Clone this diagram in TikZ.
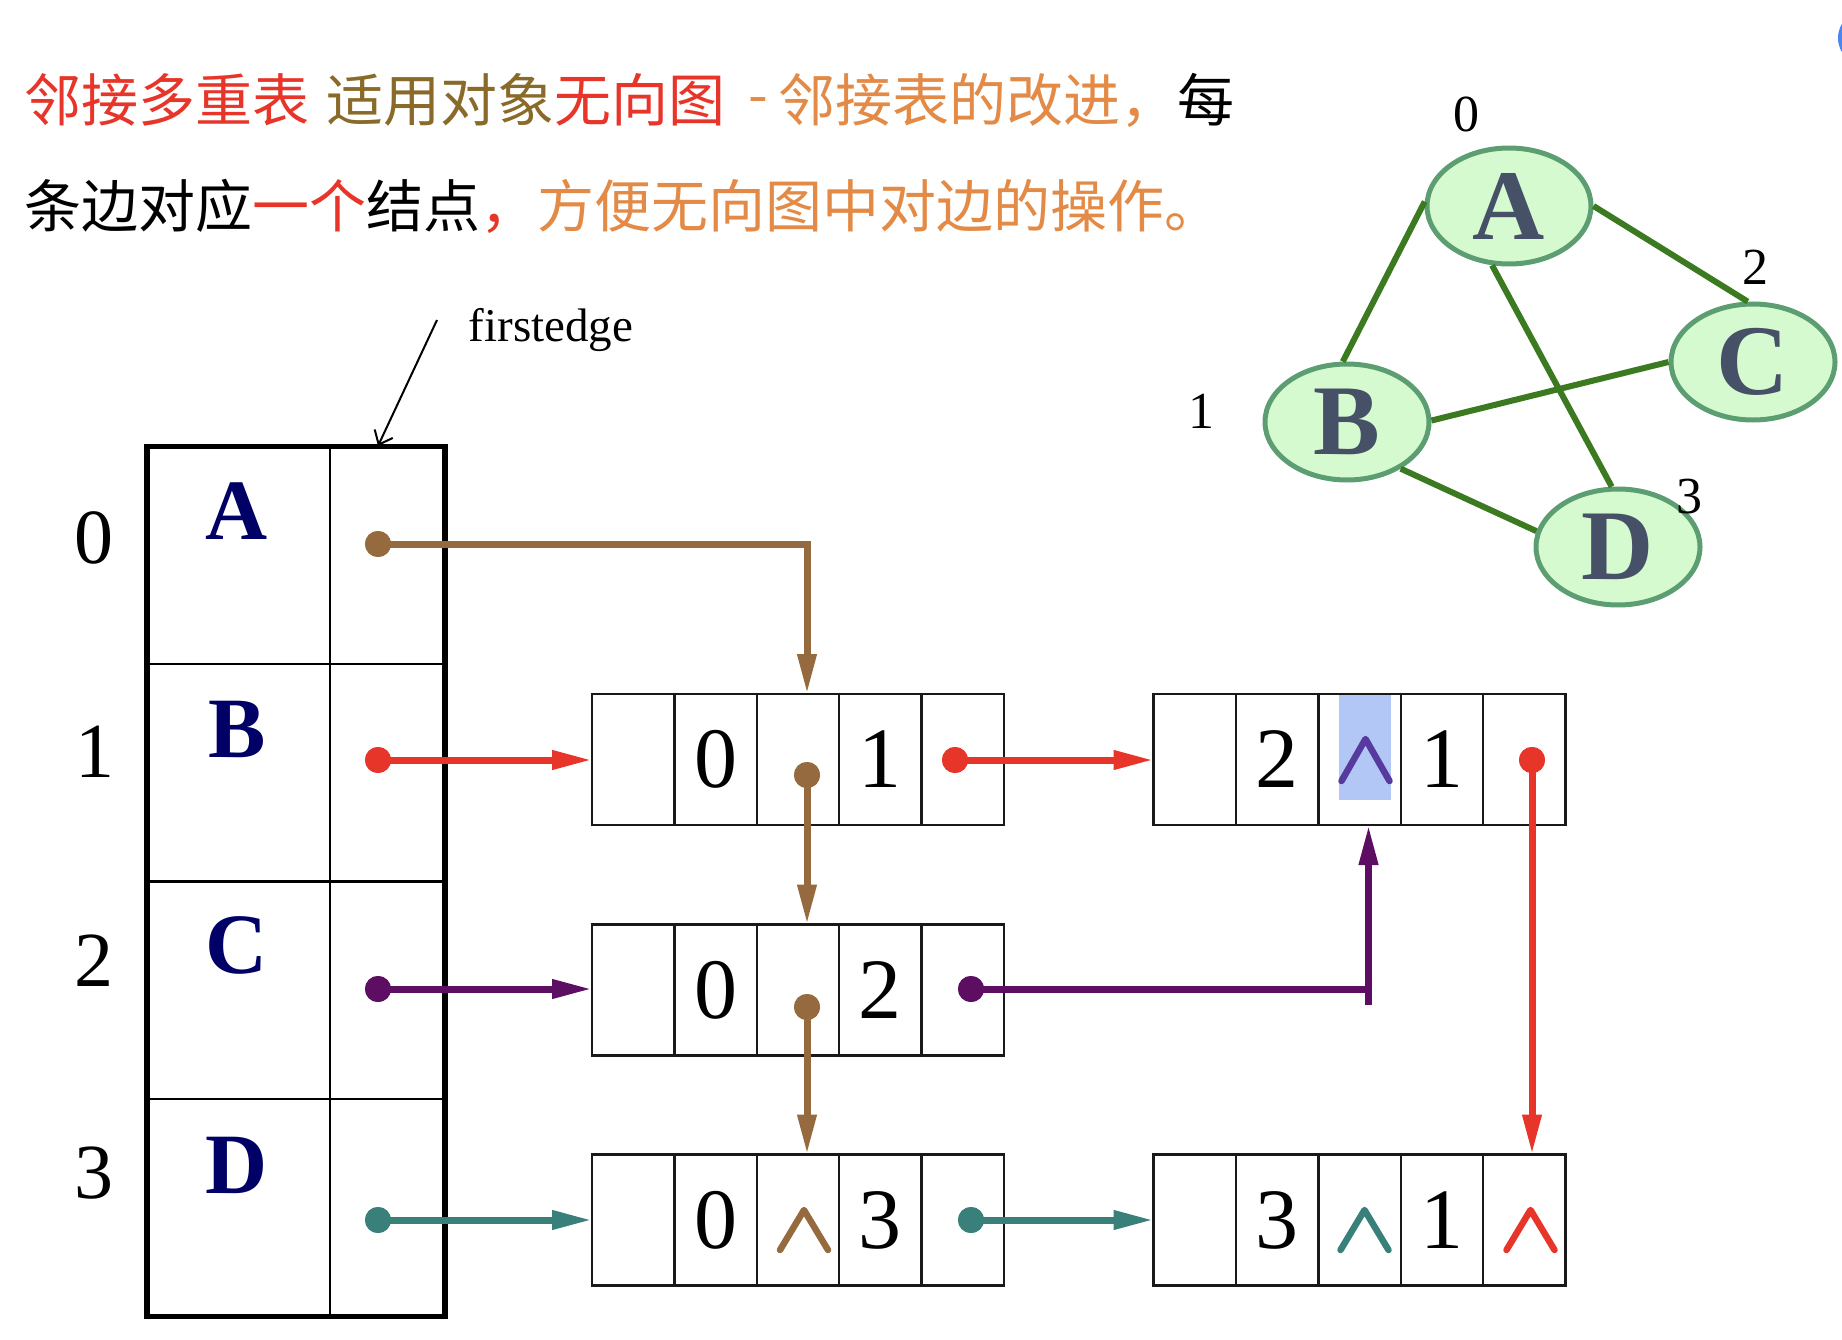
\documentclass[tikz,border=0pt]{standalone}
\usepackage{fontspec}
\setmainfont{Liberation Serif}
\newfontfamily\cjk{Noto Sans CJK SC}
\usetikzlibrary{arrows.meta,shapes.geometric}

\definecolor{cred}{HTML}{E8352A}
\definecolor{colive}{HTML}{8A6A28}
\definecolor{corange}{HTML}{E38A46}
\definecolor{cbrown}{HTML}{946A3E}
\definecolor{cpurple}{HTML}{5E0E62}
\definecolor{cteal}{HTML}{3A807A}
\definecolor{cnavy}{HTML}{000066}
\definecolor{cslate}{HTML}{465066}
\definecolor{gfill}{HTML}{D5FAD0}
\definecolor{gline}{HTML}{5C9E72}
\definecolor{gedge}{HTML}{3B7A20}
\definecolor{hlite}{HTML}{B3C7F6}
\definecolor{cviolet}{HTML}{573A9E}
\definecolor{cblue}{HTML}{4A86F0}

\newcommand{\myfs}[1]{\fontsize{#1}{#1}\selectfont}

\begin{document}
\begin{tikzpicture}[x=1pt,y=-1pt,
  cell/.style={draw=black!90, line width=2.4pt, minimum width=82.4pt, minimum height=131pt, inner sep=0pt, outer sep=0pt, font=\myfs{86}},
  vcell/.style={draw=black, line width=2.4pt, inner sep=0pt, outer sep=0pt, minimum height=217.5pt},
  pdot/.style={circle, fill=#1, minimum size=26pt, inner sep=0pt},
  conn/.style={draw=#1, line width=7pt, -{Triangle[length=40pt,width=18pt]}},
  chev/.style={line width=6.5pt, line cap=round, line join=round},
  gnode/.style={ellipse, draw=gline, line width=5pt, fill=gfill, minimum width=164pt, minimum height=116pt, inner sep=0pt, font=\myfs{100}\bfseries, text=cslate},
  gedgestyle/.style={draw=gedge, line width=6pt},
  glabel/.style={font=\myfs{52}, inner sep=0pt},
  cjktext/.style={anchor=west, inner sep=0pt, font=\cjk\myfs{57}}
]
\useasboundingbox (0,0) rectangle (1842,1340);
\begin{scope}
  \clip (0,0) rectangle (1842,1340);
  \fill[cblue] (1866,38) circle (28);
\end{scope}

% ---------- header text ----------
\node[cjktext] (t1a) at (24,100) {\textcolor{cred}{邻接多重表}};
\node[cjktext] (t1b) at (326,100) {\textcolor{colive}{适用对象}\textcolor{cred}{无向图}};
\node[inner sep=0pt, font=\cjk\myfs{57}, text=corange] (t1c) at (758,107) {-};
\node[cjktext] (t1d) at (778,100) {\textcolor{corange}{邻接表的改进，}每};
\node[cjktext] (t2) at (24,206) {条边对应\textcolor{cred}{一个}结点\textcolor{cred}{，}\textcolor{corange}{方便无向图中对边的操作。}};

% ---------- vertex table ----------
\foreach \r/\yc in {0/555,1/772.75,2/990.25,3/1207.5} {
  \node[vcell, minimum width=183pt] (vn\r) at (238.5,\yc) {};
  \node[vcell, minimum width=115pt] (vp\r) at (387.5,\yc) {};
}
\draw[line width=5.5pt] (vn0.north west) rectangle (vp3.south east);

\node[font=\myfs{78}, inner sep=0pt] (i0) at (94,538) {0};
\node[font=\myfs{78}, inner sep=0pt] (i1) at (95,752) {1};
\node[font=\myfs{78}, inner sep=0pt] (i2) at (94,961) {2};
\node[font=\myfs{78}, inner sep=0pt] (i3) at (94,1173) {3};

\node[font=\myfs{86}\bfseries, text=cnavy, inner sep=0pt] (LA) at (237,511) {A};
\node[font=\myfs{86}\bfseries, text=cnavy, inner sep=0pt] (LB) at (237,729) {B};
\node[font=\myfs{86}\bfseries, text=cnavy, inner sep=0pt] (LC) at (237,945) {C};
\node[font=\myfs{86}\bfseries, text=cnavy, inner sep=0pt] (LD) at (237,1165) {D};

% firstedge label
\node[font=\myfs{47}, inner sep=0pt] (fe) at (551,330) {firstedge};
\coordinate (fe1) at (437,320);
\coordinate (fe2) at (378,446);
\draw[line width=2pt, -{Straight Barb[length=12pt,width=20pt]}] (fe1) -- (fe2);

% ---------- edge boxes ----------
\fill[hlite] (1339,694) rectangle (1391,800);
\foreach \i/\t in {1/{},2/0,3/{},4/1,5/{}}
  \node[cell] (e1c\i) at ({592+82.4*(\i-0.5)},759.5) {\t};
\foreach \i/\t in {1/{},2/0,3/{},4/2,5/{}}
  \node[cell] (e2c\i) at ({592+82.4*(\i-0.5)},990) {\t};
\foreach \i/\t in {1/{},2/0,3/{},4/3,5/{}}
  \node[cell] (e3c\i) at ({592+82.4*(\i-0.5)},1220) {\t};
\foreach \i/\t in {1/{},2/2,3/{},4/1,5/{}}
  \node[cell] (f1c\i) at ({1153.5+82.4*(\i-0.5)},759.5) {\t};
\foreach \i/\t in {1/{},2/3,3/{},4/1,5/{}}
  \node[cell] (f3c\i) at ({1153.5+82.4*(\i-0.5)},1220) {\t};

% null markers
\draw[chev, draw=cviolet] (1365.5,760) ++(-24,21) -- ++(24,-42) -- ++(24,42);
\draw[chev, draw=cbrown] (804,1230) ++(-24,20) -- ++(24,-40) -- ++(24,40);
\draw[chev, draw=cteal] (1364.5,1230) ++(-24,20) -- ++(24,-40) -- ++(24,40);
\draw[chev, draw=cred] (1530.5,1230) ++(-24,20) -- ++(24,-40) -- ++(24,40);

% ---------- pointer dots ----------
\node[pdot=cbrown] (dA) at (378,544) {};
\node[pdot=cred] (dB) at (378,760) {};
\node[pdot=cpurple] (dC) at (378,989) {};
\node[pdot=cteal] (dD) at (378,1220) {};
\node[pdot=cbrown] (b1) at (807,775) {};
\node[pdot=cbrown] (b2) at (807,1007) {};
\node[pdot=cred] (r1) at (955,760) {};
\node[pdot=cpurple] (p2) at (971,989) {};
\node[pdot=cteal] (q3) at (971,1220) {};
\node[pdot=cred] (r2) at (1532,760) {};

% ---------- connectors ----------
\coordinate (b1t) at (807,694);
\draw[conn=cbrown] (dA.center) -| (b1t);
\draw[conn=cbrown] (b1.center) -- (b1 |- e2c3.north);
\draw[conn=cbrown] (b2.center) -- (b2 |- e3c3.north);

\draw[conn=cred] (dB.center) -- (dB -| e1c1.west);
\draw[conn=cred] (r1.center) -- (r1 -| f1c1.west);
\draw[conn=cred] (r2.center) -- (r2 |- f3c5.north);

\coordinate (pup) at (1368.5,825);
\draw[conn=cpurple] (dC.center) -- (dC -| e2c1.west);
\draw[conn=cpurple] (p2.center) -| (pup);
\draw[draw=cpurple, line width=7pt] (pup |- p2) -- ++(0,16);

\draw[conn=cteal] (dD.center) -- (dD -| e3c1.west);
\draw[conn=cteal] (q3.center) -- (q3 -| f3c1.west);

% redraw dots on top
\foreach \n/\c in {dA/cbrown,dB/cred,dC/cpurple,dD/cteal,b1/cbrown,b2/cbrown,r1/cred,p2/cpurple,q3/cteal,r2/cred}
  \fill[\c] (\n.center) circle (13);

% ---------- graph ----------
\node[gnode] (gA) at (1509,206) {A};
\node[gnode] (gB) at (1347,422) {B};
\node[gnode] (gC) at (1753,362) {C};
\node[gnode] (gD) at (1618,547) {D};
\draw[gedgestyle] (gA.177) -- (gB.94);
\draw[gedgestyle] (gA.0) -- (gC.95);
\draw[gedgestyle] (gA.254) -- (gD.96);
\draw[gedgestyle] (gB.1) -- (gC.180);
\draw[gedgestyle] (gB.319) -- (gD.169);

\node[glabel] (l0) at (1466,114) {0};
\node[glabel] (l1) at (1201,411) {1};
\node[glabel] (l2) at (1755,267) {2};
\node[glabel] (l3) at (1689,497) {3};
\end{tikzpicture}
\end{document}
